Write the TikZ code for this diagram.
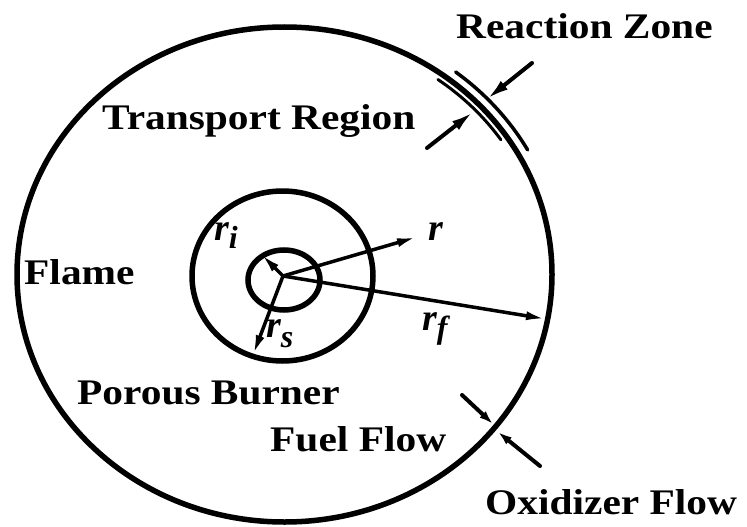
\documentclass[tikz,border=0pt]{standalone}
\usepackage{fontspec}
\usepackage{graphicx}
\setmainfont{Liberation Serif}
\usetikzlibrary{arrows.meta}
\newcommand{\wtxt}[1]{\scalebox{1.15}[1]{#1}}
\newcommand{\sub}[2]{\raisebox{#1}{\fontsize{32}{32}\selectfont #2}}
\begin{document}
\begin{tikzpicture}[x=1pt,y=-1pt,
  lbl/.style={anchor=base west, inner sep=0pt, font=\fontsize{36}{40}\selectfont\bfseries},
  mlbl/.style={anchor=base west, inner sep=0pt, font=\fontsize{38}{40}\selectfont\bfseries\itshape},
  ring/.style={line width=5.5pt},
  radius/.style={line width=3.5pt, -{Latex[length=20pt,width=9pt]}},
  zonearrow/.style={line width=4pt, line cap=round, -{Latex[length=22pt,width=11pt]}},
  flowarrow/.style={line width=4pt, line cap=round, -{Latex[length=14pt,width=9pt]}}]
\useasboundingbox (0,0) rectangle (747,527);
% outer flame surface
\draw[ring] (284.5,274.5) ellipse [x radius=267.5, y radius=247.5];
% reaction zone band
\draw[line width=3.5pt, line cap=round] plot[domain=29:52, samples=30] ({284.5+278*cos(\x)}, {274.5-257*sin(\x)});
\draw[line width=3pt, line cap=round] plot[domain=34:54, samples=30] ({284.5+261*cos(\x)}, {274.5-241*sin(\x)});
% porous burner and inner circle
\draw[ring] (282.5,276) ellipse [x radius=90.5, y radius=85];
\draw[ring] (284,280) ellipse [x radius=36, y radius=30];
% radii
\coordinate (C) at (283,276);
\coordinate (ti) at (261,254);
\coordinate (ts) at (253,355);
\coordinate (tr) at (417,237);
\coordinate (tf) at (546,319);
\draw[radius] (C) -- (ti);
\draw[radius] (C) -- (ts);
\draw[radius] (C) -- (tr);
\draw[radius] (C) -- (tf);
% reaction zone arrows
\coordinate (z1s) at (532,63);
\coordinate (z1e) at (487,99);
\coordinate (z2s) at (427,148);
\coordinate (z2e) at (473,112);
\draw[zonearrow] (z1s) -- (z1e);
\draw[zonearrow] (z2s) -- (z2e);
% fuel / oxidizer arrows
\coordinate (f1s) at (462,395);
\coordinate (f1e) at (493,424);
\coordinate (f2s) at (540,466);
\coordinate (f2e) at (498,432);
\draw[flowarrow] (f1s) -- (f1e);
\draw[flowarrow] (f2s) -- (f2e);
% labels
\node[lbl] (rz) at (456,39) {\wtxt{Reaction Zone}};
\node[lbl] (tp) at (102,129) {\wtxt{Transport Region}};
\node[lbl] (fl) at (24,284) {\wtxt{Flame}};
\node[lbl] (pb) at (77,404) {\wtxt{Porous Burner}};
\node[lbl] (ff) at (270,451) {\wtxt{Fuel Flow}};
\node[lbl] (ox) at (485,514) {\wtxt{Oxidizer Flow}};
% symbols
\node[mlbl] (lri) at (214,240) {r\sub{-8pt}{i}};
\node[mlbl] (lrs) at (266,337) {r\sub{-10pt}{s}};
\node[mlbl] (lr) at (428,240) {r};
\node[mlbl] (lrf) at (422,330) {r\sub{-8pt}{f}};
\end{tikzpicture}
\end{document}
